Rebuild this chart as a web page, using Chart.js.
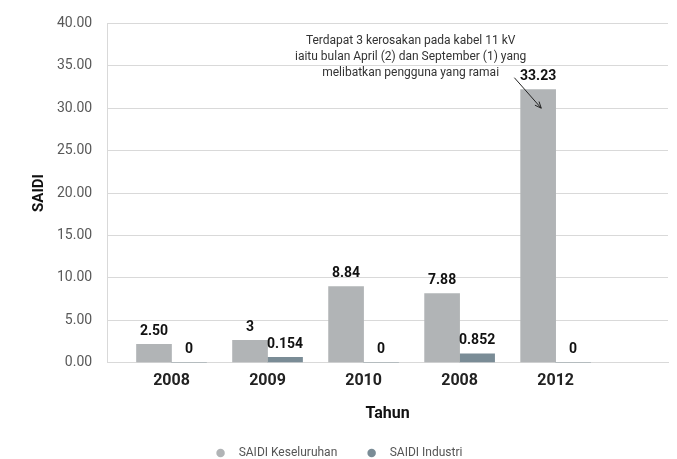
<!DOCTYPE html>
<html>
<head>
<meta charset="utf-8">
<script src="https://cdn.jsdelivr.net/npm/chart.js@4.4.1/dist/chart.umd.min.js"></script>
<style>
  html, body { margin: 0; padding: 0; background: #fff; }
  #wrap { width: 677px; height: 459px; }
</style>
</head>
<body>
<div id="wrap"><canvas id="saidiChart"></canvas></div>
<script>
const years = ['2008', '2009', '2010', '2008', '2012'];
const saidiKeseluruhan = [2.16, 2.63, 8.97, 8.15, 32.2];
const saidiIndustri = [0, 0.63, 0, 1.03, 0];
const keseluruhanLabels = ['2.50', '3', '8.84', '7.88', '33.23'];
const industriLabels = ['0', '0.154', '0', '0.852', '0'];
const yTicks = [0, 5, 10, 15, 20, 25, 30, 35, 40];
const noteLines = [
  'Terdapat 3 kerosakan pada kabel 11 kV',
  'iaitu bulan April (2) dan September (1) yang',
  'melibatkan pengguna yang ramai'
];

const FONT = 'Roboto, "DejaVu Sans", sans-serif';
const GRID = '#d9d9d9';

// label angka di atas batang
const barLabels = {
  id: 'barLabels',
  afterDatasetsDraw(chart) {
    const ctx = chart.ctx;
    const texts = [keseluruhanLabels, industriLabels];
    ctx.save();
    ctx.font = 'bold 14px ' + FONT;
    ctx.fillStyle = '#111';
    ctx.textAlign = 'center';
    ctx.textBaseline = 'bottom';
    chart.data.datasets.forEach((ds, di) => {
      chart.getDatasetMeta(di).data.forEach((bar, i) => {
        ctx.fillText(texts[di][i], bar.x, bar.y - 6);
      });
    });
    ctx.restore();
  }
};

// catatan + anak panah
const noteArrow = {
  id: 'noteArrow',
  afterDraw(chart) {
    const { ctx, scales: { x, y } } = chart;
    ctx.save();
    ctx.font = '12px ' + FONT;
    ctx.fillStyle = '#333';
    ctx.textAlign = 'center';
    ctx.textBaseline = 'middle';
    const cx = x.getPixelForValue(2.49);
    const lineVals = [37.9, 36.0, 34.1];
    noteLines.forEach((t, i) => ctx.fillText(t, cx, y.getPixelForValue(lineVals[i])));

    const x1 = x.getPixelForValue(3.57), y1 = y.getPixelForValue(33.6);
    const x2 = x.getPixelForValue(3.85), y2 = y.getPixelForValue(30);
    ctx.strokeStyle = '#222';
    ctx.lineWidth = 1;
    ctx.beginPath();
    ctx.moveTo(x1, y1);
    ctx.lineTo(x2, y2);
    ctx.stroke();
    const ang = Math.atan2(y2 - y1, x2 - x1);
    const len = 7;
    ctx.beginPath();
    ctx.moveTo(x2, y2);
    ctx.lineTo(x2 - len * Math.cos(ang - 0.4), y2 - len * Math.sin(ang - 0.4));
    ctx.moveTo(x2, y2);
    ctx.lineTo(x2 - len * Math.cos(ang + 0.4), y2 - len * Math.sin(ang + 0.4));
    ctx.stroke();
    ctx.restore();
  }
};

new Chart(document.getElementById('saidiChart'), {
  type: 'bar',
  data: {
    datasets: [
      {
        label: 'SAIDI Keseluruhan',
        data: saidiKeseluruhan.map((v, i) => ({ x: i, y: v })),
        backgroundColor: '#b1b4b6',
        barThickness: 35
      },
      {
        label: 'SAIDI Industri',
        data: saidiIndustri.map((v, i) => ({ x: i, y: v })),
        backgroundColor: '#7a8c96',
        barThickness: 35
      }
    ]
  },
  options: {
    responsive: true,
    maintainAspectRatio: false,
    animation: false,
    layout: { padding: { left: 9, right: 9, top: 16, bottom: -10 } },
    plugins: {
      legend: {
        position: 'bottom',
        labels: {
          usePointStyle: true,
          pointStyle: 'circle',
          boxWidth: 12,
          boxHeight: 6,
          padding: 10,
          color: '#555',
          font: { family: FONT, size: 12 },
          generateLabels: (chart) => {
            const items = Chart.defaults.plugins.legend.labels.generateLabels(chart);
            items.forEach(it => { it.text = '\u2002' + it.text; });
            items[0].text += '\u2003\u2002';
            return items;
          }
        }
      },
      tooltip: { enabled: false }
    },
    scales: {
      x: {
        type: 'linear',
        offset: false,
        min: -0.67,
        max: 5.17,
        afterBuildTicks: (scale) => { scale.ticks = years.map((_, i) => ({ value: i })); },
        ticks: {
          callback: (v) => years[v],
          color: '#222',
          padding: 9,
          font: { family: FONT, size: 16, weight: 'bold' }
        },
        grid: { display: false, drawTicks: false },
        border: { color: GRID },
        title: {
          display: true,
          text: 'Tahun',
          color: '#111',
          padding: { top: 5, bottom: 13 },
          font: { family: FONT, size: 16, weight: 'bold' }
        }
      },
      y: {
        min: 0,
        max: 40,
        afterBuildTicks: (scale) => { scale.ticks = yTicks.map(v => ({ value: v })); },
        ticks: {
          callback: (v) => Number(v).toFixed(2),
          color: '#595959',
          padding: 15,
          font: { family: FONT, size: 14 }
        },
        grid: { color: GRID, drawTicks: false },
        border: { color: GRID },
        title: {
          display: true,
          text: 'SAIDI',
          color: '#111',
          padding: { top: 21, bottom: -6 },
          font: { family: FONT, size: 15, weight: 'bold' }
        }
      }
    }
  },
  plugins: [barLabels, noteArrow]
});
</script>
</body>
</html>
